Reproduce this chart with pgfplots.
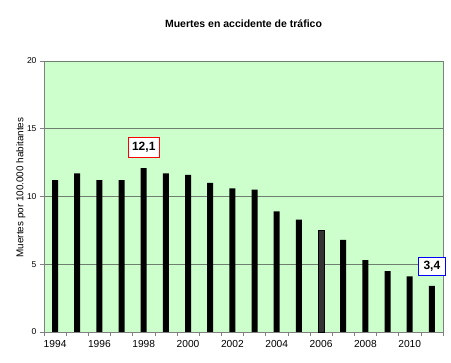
\documentclass[border=0pt]{standalone}
\usepackage{pgfplots}
\pgfplotsset{compat=1.18}
\usepackage{fontspec}
\setmainfont{Liberation Sans}
\definecolor{bgg}{HTML}{CCFFCC}
\definecolor{gridc}{HTML}{6F7F6F}
\definecolor{axc}{HTML}{808080}
\begin{document}
\begin{tikzpicture}
\begin{axis}[
  at={(0,0)}, anchor=south west,
  width=399pt, height=271pt, scale only axis,
  xmin=-0.5, xmax=17.5, ymin=0, ymax=20,
  clip=false,
  axis background/.style={fill=bgg},
  axis line style={axc},
  axis x line*=bottom, axis y line*=left,
  ytick={0,5,10,15,20},
  ymajorgrids, major grid style={gridc, line width=0.8pt},
  xtick={0,2,...,16},
  xticklabels={1994,1996,1998,2000,2002,2004,2006,2008,2010},
  minor xtick={-0.5,0.5,...,17.5},
  major x tick style={draw=none},
  minor tick length=4pt, major tick length=4pt,
  tick style={axc, line width=0.6pt},
  tick align=outside,
  xticklabel style={font=\fontsize{10.2}{12}\selectfont, yshift=-1pt},
  yticklabel style={font=\fontsize{8.5}{10}\selectfont},
  /pgf/number format/assume math mode=true,
  ylabel={Muertes por 100.000 habitantes},
  ylabel style={font=\fontsize{9.9}{12}\selectfont, at={(axis description cs:0,0.533)}, anchor=south, yshift=15pt},
  title={\textbf{Muertes en accidente de tráfico}},
  title style={font=\fontsize{10.5}{12}\selectfont, at={(axis description cs:0.5,1)}, yshift=27pt, anchor=base},
]
\draw[axc, line width=0.8pt] (axis cs:17.5,0) -- (axis cs:17.5,20);
\addplot[ybar, bar width=6pt, bar shift=0pt, fill=black, draw=none] coordinates {
(0,11.2) (1,11.7) (2,11.2) (3,11.2) (4,12.1) (5,11.7) (6,11.6) (7,11.0) (8,10.6)
(9,10.5) (10,8.9) (11,8.3) (13,6.8) (14,5.3) (15,4.5) (16,4.1) (17,3.4)};
\addplot[ybar, bar width=6pt, bar shift=0pt, fill=black!80, draw=black, line width=0.4pt] coordinates {(12,7.5)};
\node[draw=red, line width=1pt, fill=white, font=\bfseries\fontsize{12}{14}\selectfont, inner sep=2pt, minimum width=31pt, minimum height=20pt] at (axis cs:4,13.65) {12,1};
\node[draw=blue, line width=1.3pt, fill=white, font=\bfseries\fontsize{12}{14}\selectfont, inner sep=2pt, minimum width=27pt, minimum height=18pt] at (axis cs:17,4.83) {3,4};
\end{axis}
\path[use as bounding box] (-44pt,-31pt) rectangle (407pt,332pt);
\end{tikzpicture}
\end{document}
